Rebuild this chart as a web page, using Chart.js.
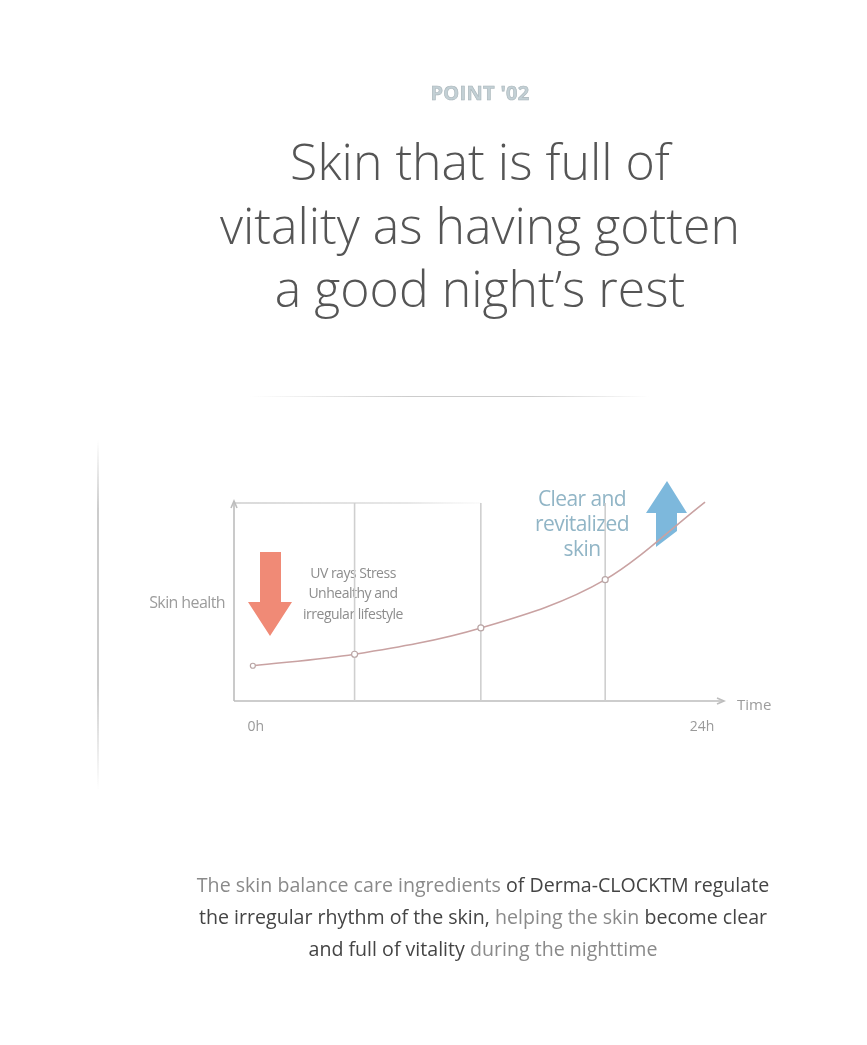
<!DOCTYPE html>
<html><head><meta charset="utf-8">
<script src="https://cdn.jsdelivr.net/npm/chart.js@4"></script>
<style>
html,body{margin:0;padding:0;background:#fff;}
body{width:867px;height:1045px;position:relative;overflow:hidden;font-family:"Open Sans",sans-serif;}
#wrap{position:absolute;left:0;top:0;width:867px;height:1045px;filter:blur(0.45px);}
.abs{position:absolute;}
#point{left:0;width:960px;top:79px;text-align:center;font-size:20px;font-weight:700;color:#c3d0d5;letter-spacing:0.3px;-webkit-text-stroke:0.6px #a9b5ba;}
#title{left:0;width:960px;top:130px;text-align:center;font-size:50px;font-weight:300;color:#555;line-height:63.5px;letter-spacing:0px;}
#desc{left:0;width:966px;top:869px;text-align:center;font-size:19.6px;line-height:32px;color:#444;letter-spacing:0px;}
.lt{color:#8a8a8a;}
#hr{left:250px;top:396px;width:400px;height:1px;background:linear-gradient(90deg,rgba(220,220,220,0),#ccc 40%,#ccc 70%,rgba(220,220,220,0));}
#vr{left:97px;top:440px;width:1.5px;height:350px;background:linear-gradient(180deg,rgba(220,220,220,0),#ccc 20%,#ccc 70%,rgba(220,220,220,0));}
canvas{position:absolute;left:0;top:0;}
</style></head>
<body>
<div id="wrap">
<div class="abs" id="point">POINT '02</div>
<div class="abs" id="title">Skin that is full of<br>vitality as having gotten<br>a good night’s rest</div>
<div class="abs" id="hr"></div>
<div class="abs" id="vr"></div>
<div class="abs" id="desc"><span class="lt">The skin balance care ingredients</span> of Derma-CLOCKTM regulate<br>the irregular rhythm of the skin, <span class="lt">helping the skin</span> become clear<br>and full of vitality <span class="lt">during the nighttime</span></div>
<div style="position:absolute;left:0;top:0;width:867px;height:1045px;"><canvas id="c" width="867" height="1045"></canvas></div>
</div>
<script>
// Data
const curveHours = [0, 5.4, 12.1, 18.7, 24];
const curveHealth = [17.8, 23.6, 36.9, 61.3, 100.5];
const gridHours = [5.4, 12.1, 18.7];
const tickHours = [0, 24];
const tickLabels = ['0h', '24h'];
const axisTitles = { x: 'Time', y: 'Skin health' };
const noteDown = ['UV rays Stress', 'Unhealthy and', 'irregular lifestyle'];
const noteUp = ['Clear and', 'revitalized', 'skin'];

const datasets = [];
gridHours.forEach(h => datasets.push({
  type: 'line', data: [{x: h, y: 0}, {x: h, y: 100}],
  borderColor: '#cfcfcf', borderWidth: 1.6, pointRadius: 0, order: 3
}));
datasets.push({
  type: 'line',
  data: curveHours.map((h, i) => ({x: h, y: curveHealth[i]})),
  borderColor: '#c9a2a2', borderWidth: 1.6, cubicInterpolationMode: 'monotone',
  pointRadius: [2.5, 3, 3, 3, 0], pointBackgroundColor: '#fff', pointBorderColor: '#b9a6a6',
  pointBorderWidth: 1.2, order: 1, clip: false
});

const deco = {
  id: 'deco',
  beforeDatasetsDraw(chart) {
    const {ctx, chartArea: a, scales: {x, y}} = chart;
    ctx.save();
    const g = ctx.createLinearGradient(a.left, 0, x.getPixelForValue(12.1), 0);
    g.addColorStop(0, 'rgba(200,200,200,0.9)'); g.addColorStop(0.7, 'rgba(215,215,215,0.8)'); g.addColorStop(1, 'rgba(230,230,230,0.2)');
    ctx.strokeStyle = g; ctx.lineWidth = 1.5;
    ctx.beginPath(); ctx.moveTo(a.left, a.top); ctx.lineTo(x.getPixelForValue(12.1), a.top); ctx.stroke();
    ctx.strokeStyle = '#bdbdbd'; ctx.lineWidth = 1.6;
    ctx.beginPath(); ctx.moveTo(a.left, a.bottom); ctx.lineTo(a.left, a.top - 2); ctx.stroke();
    ctx.beginPath(); ctx.moveTo(a.left - 3, a.top + 5); ctx.lineTo(a.left, a.top - 2); ctx.lineTo(a.left + 3, a.top + 5); ctx.stroke();
    ctx.beginPath(); ctx.moveTo(a.left, a.bottom); ctx.lineTo(a.right + 2, a.bottom); ctx.stroke();
    ctx.beginPath(); ctx.moveTo(a.right - 5, a.bottom - 3); ctx.lineTo(a.right + 2, a.bottom); ctx.lineTo(a.right - 5, a.bottom + 3); ctx.stroke();
    ctx.fillStyle = '#9a9a9a'; ctx.font = '14px "Open Sans"'; ctx.textAlign = 'center'; ctx.textBaseline = 'middle';
    tickHours.forEach((h, i) => ctx.fillText(tickLabels[i], x.getPixelForValue(h) + (i ? -3 : 3), a.bottom + 26));
    ctx.font = '15px "Open Sans"'; ctx.fillStyle = '#9c9c9c';
    ctx.textAlign = 'left'; ctx.fillText(axisTitles.x, a.right + 15, a.bottom + 5);
    ctx.font = '16px "Open Sans"';
    if ('letterSpacing' in ctx) ctx.letterSpacing = '-0.6px';
    ctx.textAlign = 'right'; ctx.fillText(axisTitles.y, a.left - 9, y.getPixelForValue(49.5));
    ctx.fillStyle = '#f08a76';
    ctx.beginPath();
    ctx.moveTo(260, 552); ctx.lineTo(281, 552); ctx.lineTo(281, 602); ctx.lineTo(292, 602);
    ctx.lineTo(270, 636); ctx.lineTo(248, 602); ctx.lineTo(260, 602); ctx.closePath(); ctx.fill();
    ctx.fillStyle = '#7db8dc';
    ctx.beginPath();
    ctx.moveTo(667, 481); ctx.lineTo(687, 513); ctx.lineTo(677, 513); ctx.lineTo(677, 531);
    ctx.lineTo(656, 547); ctx.lineTo(656, 513); ctx.lineTo(646, 513); ctx.closePath(); ctx.fill();
    ctx.font = '14px "Open Sans"'; ctx.fillStyle = '#8d8d8d'; ctx.textAlign = 'center';
    if ('letterSpacing' in ctx) ctx.letterSpacing = '-0.5px';
    noteDown.forEach((t, i) => ctx.fillText(t, 353, 574 + i * 20.5));
    ctx.font = '21px "Open Sans"'; ctx.fillStyle = '#91b5c6';
    if ('letterSpacing' in ctx) ctx.letterSpacing = '-0.6px';
    noteUp.forEach((t, i) => ctx.fillText(t, 582, 500 + i * 25));
    ctx.restore();
  }
};

new Chart(document.getElementById('c'), {
  data: { datasets },
  options: {
    responsive: false, animation: false, devicePixelRatio: 1,
    layout: { padding: { left: 234, right: 867 - 722, top: 503, bottom: 1045 - 701 } },
    plugins: { legend: { display: false }, tooltip: { enabled: false } },
    scales: {
      x: { type: 'linear', display: false, min: -1.0, max: 24.9 },
      y: { type: 'linear', display: false, min: 0, max: 100 }
    }
  },
  plugins: [deco]
});
</script>
</body></html>
